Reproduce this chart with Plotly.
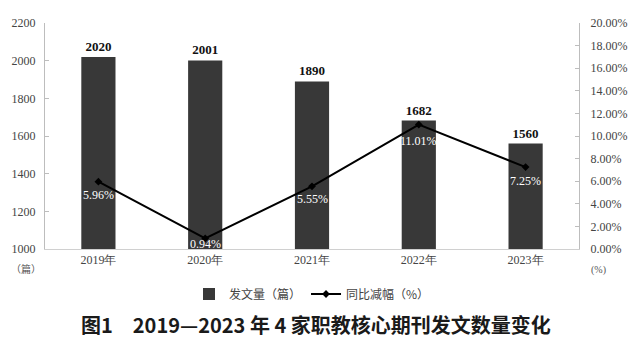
import plotly.graph_objects as go

years = ["2019年", "2020年", "2021年", "2022年", "2023年"]
papers = [2020, 2001, 1890, 1682, 1560]
decline = [0.0596, 0.0094, 0.0555, 0.1101, 0.0725]
decline_labels = ["5.96%", "0.94%", "5.55%", "11.01%", "7.25%"]

serif = "Liberation Serif, Times New Roman, serif"
cjk = "Noto Sans CJK SC, sans-serif"

fig = go.Figure()
fig.add_trace(go.Bar(
    x=years, y=papers, name="发文量（篇）",
    marker=dict(color="#383838", line=dict(width=0)),
    text=[str(v) for v in papers], textposition="outside",
    textfont=dict(family=serif, size=13, color="#111111"),
    texttemplate="<b>%{text}</b>", cliponaxis=False, width=0.32,
))
fig.add_trace(go.Scatter(
    x=years, y=decline, name="同比减幅（%）", yaxis="y2",
    mode="lines+markers",
    line=dict(color="#000000", width=2),
    marker=dict(symbol="diamond", size=6, color="#000000"),
    cliponaxis=False,
))

# white value labels under line points (pixel offsets are styling)
label_shift = [-13, -6, -13, -16, -14]
annotations = []
for yr, v, lab, s in zip(years, decline, decline_labels, label_shift):
    annotations.append(dict(x=yr, y=v, xref="x", yref="y2", text=lab, showarrow=False,
                            yshift=s, font=dict(family=serif, size=12, color="#ffffff")))

fig.update_layout(
    width=639, height=341,
    margin=dict(l=42, r=58, t=23, b=92),
    paper_bgcolor="white", plot_bgcolor="white",
    showlegend=True,
    legend=dict(orientation="h", x=0.5, xanchor="center", y=-0.135, yanchor="top",
                font=dict(family=cjk, size=12, color="#444444"),
                itemwidth=30, tracegroupgap=0),
    bargap=0.68,
    xaxis=dict(showline=True, linecolor="#d0d0d0", linewidth=1, ticks="",
               tickfont=dict(family=serif, size=12, color="#444444"),
               showgrid=False),
    yaxis=dict(range=[1000, 2200], dtick=200, showgrid=False, zeroline=False,
               showline=True, linecolor="#bdbdbd", linewidth=1,
               ticks="inside", ticklen=4, tickcolor="#bdbdbd",
               tickfont=dict(family=serif, size=12, color="#444444"),
               ticklabelstandoff=6),
    yaxis2=dict(range=[0, 0.20], dtick=0.02, tickformat=".2%", overlaying="y",
                side="right", showgrid=False, zeroline=False,
                showline=True, linecolor="#bdbdbd", linewidth=1,
                ticks="inside", ticklen=4, tickcolor="#bdbdbd",
                tickfont=dict(family=serif, size=12, color="#444444"),
                ticklabelstandoff=8),
)

# fixed-position texts, placed in pixel space via paper coordinates
pw, ph = 639 - 42 - 58, 341 - 23 - 92
def px(x, y):
    return (x - 42) / pw, (341 - 92 - y) / ph

fixed = [
    ("（篇）", 23, 268, cjk, 10, "#555555"),
    ("(%)", 601, 270, serif, 10, "#555555"),
    ("<b>图1　2019—2023 年 4 家职教核心期刊发文数量变化</b>", 316, 324, cjk, 20, "#1a1a1a"),
]
for text, x, y, fam, size, col in fixed:
    xx, yy = px(x, y)
    annotations.append(dict(text=text, x=xx, y=yy, xref="paper", yref="paper",
                            xanchor="center", yanchor="middle", showarrow=False,
                            font=dict(family=fam, size=size, color=col)))

fig.update_layout(annotations=annotations)
fig.write_html("out.html")
